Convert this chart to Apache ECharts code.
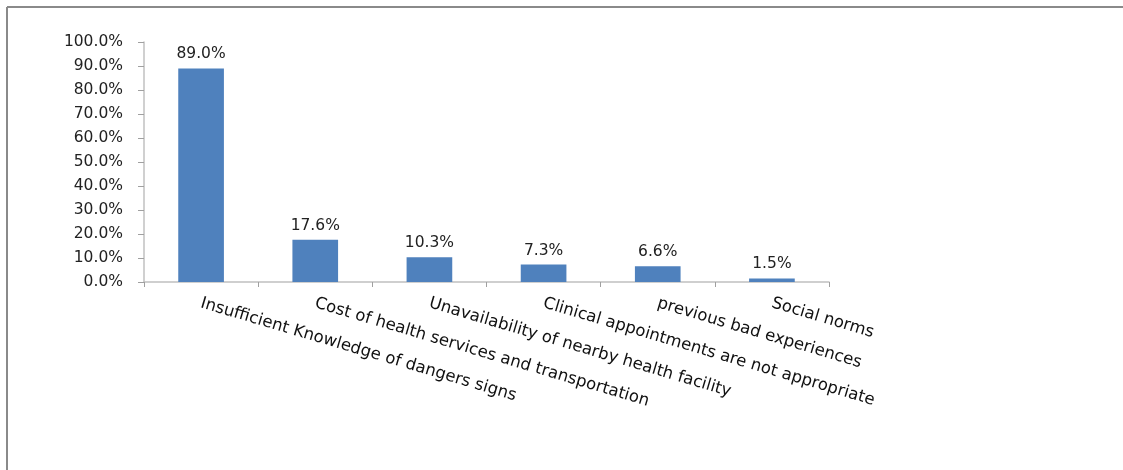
<!DOCTYPE html>
<html><head><meta charset="utf-8">
<script src="https://cdn.jsdelivr.net/npm/echarts@6/dist/echarts.min.js"></script>
<style>html,body{margin:0;padding:0;background:#fff}#c{width:1123px;height:470px}</style>
</head><body><div id="c"></div>
<script>
const categories = ["Insufficient Knowledge of dangers signs","Cost of health services and transportation","Unavailability of nearby health facility","Clinical appointments are not appropriate","previous bad experiences","Social norms"];
const values = [89.0, 17.6, 10.3, 7.3, 6.6, 1.5];
const yTicks = [0,10,20,30,40,50,60,70,80,90,100];
const chart = echarts.init(document.getElementById('c'));
const font = "'DejaVu Sans', Verdana, sans-serif";
chart.setOption({
  animation:false,
  backgroundColor:'#fff',
  graphic:[
    {type:'line',shape:{x1:7,y1:7,x2:1123,y2:7},style:{stroke:'#8a8a8a',lineWidth:2}},
    {type:'line',shape:{x1:7,y1:7,x2:7,y2:470},style:{stroke:'#8a8a8a',lineWidth:2}}
  ],
  grid:{left:144,top:42,right:294,bottom:188,containLabel:false},
  xAxis:{type:'category',data:categories,
    axisLine:{lineStyle:{color:'#c0c0c0',width:1.5}},
    axisTick:{show:true,length:5,lineStyle:{color:'#a0a0a0'}},
    axisLabel:{rotate:-16.5,interval:0,margin:21,fontFamily:font,fontSize:16.5,color:'#111'}},
  yAxis:{type:'value',min:0,max:100,interval:10,
    axisLine:{show:true,lineStyle:{color:'#c0c0c0',width:1.5}},
    axisTick:{show:true,length:6,lineStyle:{color:'#a0a0a0'}},
    splitLine:{show:false},
    axisLabel:{margin:21,fontFamily:font,fontSize:15.5,color:'#222',formatter:v=>v.toFixed(1)+'%'}},
  series:[{type:'bar',data:values,barWidth:'40%',
    itemStyle:{color:'#4F81BD'},
    label:{show:true,position:'top',distance:6,fontFamily:font,fontSize:15.5,color:'#222',formatter:p=>p.value.toFixed(1)+'%'}}]
});
</script></body></html>
